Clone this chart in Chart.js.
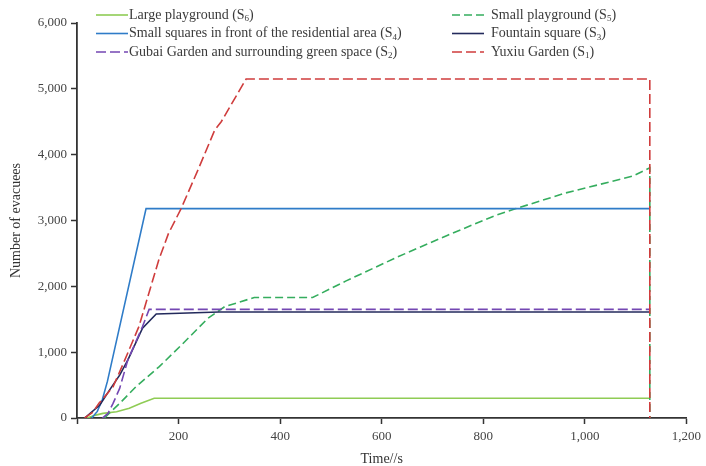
<!DOCTYPE html>
<html>
<head>
<meta charset="utf-8">
<script src="https://cdn.jsdelivr.net/npm/chart.js@4/dist/chart.umd.min.js"></script>
<style>
  html, body { margin: 0; padding: 0; background: #fff; }
  #wrap { width: 706px; height: 466px; }
</style>
</head>
<body>
<div id="wrap"><canvas id="evacChart" width="706" height="466"></canvas></div>
<script>
// time (s) and number of evacuees, per shelter
const s6Time  = [20, 35, 51, 78, 103, 126, 152, 1128];
const s6Count = [0, 40, 70, 95, 147, 223, 300, 300];

const s5Time  = [54, 84, 116, 162, 206, 258, 291, 349, 464, 530, 630, 730, 823, 863, 962, 1029, 1095, 1128, 1128];
const s5Count = [0, 222, 474, 780, 1111, 1515, 1692, 1830, 1830, 2083, 2442, 2777, 3074, 3177, 3418, 3547, 3676, 3800, 0];

const s4Time  = [29, 40, 50, 60, 136, 1128];
const s4Count = [0, 100, 280, 560, 3180, 3180];

const s3Time  = [15, 45, 64, 84, 100, 129, 156, 280, 1128];
const s3Count = [0, 197, 424, 652, 880, 1363, 1580, 1610, 1610];

const s2Time  = [50, 61, 71, 84, 100, 129, 142, 1128];
const s2Count = [0, 70, 222, 450, 879, 1389, 1650, 1650];

const s1Time  = [15, 30, 44, 71, 94, 122, 161, 180, 205, 240, 271, 284, 333, 1128, 1128];
const s1Count = [0, 80, 230, 474, 879, 1390, 2400, 2800, 3180, 3800, 4370, 4500, 5150, 5150, 0];

const seriesNames = [
  "Large playground (S6)",
  "Small playground (S5)",
  "Small squares in front of the residential area (S4)",
  "Fountain square (S3)",
  "Gubai Garden and surrounding green space (S2)",
  "Yuxiu Garden (S1)"
];

const xTicks = [0, 200, 400, 600, 800, 1000, 1200];
const yTicks = [0, 1000, 2000, 3000, 4000, 5000, 6000];

function toPoints(times, counts) {
  return times.map((t, i) => ({ x: t, y: counts[i] }));
}

const SERIF = "'Liberation Serif', 'DejaVu Serif', serif";
const fmt = n => n.toLocaleString("en-US");

// two-column legend drawn inside the top of the plot
const legendPlugin = {
  id: "twoColLegend",
  afterDraw(chart) {
    const ctx = chart.ctx;
    // left column: S6, S4, S2 ; right column: S5, S3, S1
    const slots = [
      { ds: 0, x: 96, y: 15 }, { ds: 1, x: 452, y: 15 },
      { ds: 2, x: 96, y: 33.5 }, { ds: 3, x: 452, y: 33.5 },
      { ds: 4, x: 96, y: 52 }, { ds: 5, x: 452, y: 52 }
    ];
    ctx.save();
    slots.forEach(s => {
      const d = chart.data.datasets[s.ds];
      ctx.strokeStyle = d.borderColor;
      ctx.lineWidth = 1.6;
      ctx.setLineDash(d.borderDash || []);
      ctx.beginPath();
      ctx.moveTo(s.x, s.y);
      ctx.lineTo(s.x + 32, s.y);
      ctx.stroke();
      ctx.setLineDash([]);
      // label with subscript index
      const m = d.label.match(/^(.*\(S)(\d)(\))$/);
      ctx.fillStyle = "#3a3a3a";
      ctx.textBaseline = "middle";
      let tx = s.x + (s.ds % 2 ? 39 : 33);
      ctx.font = "14px " + SERIF;
      ctx.fillText(m[1], tx, s.y);
      tx += ctx.measureText(m[1]).width;
      ctx.font = "9px " + SERIF;
      ctx.fillText(m[2], tx, s.y + 4);
      tx += ctx.measureText(m[2]).width;
      ctx.font = "14px " + SERIF;
      ctx.fillText(m[3], tx, s.y);
    });
    ctx.restore();
  }
};

const baseLine = { fill: false, pointRadius: 0, borderWidth: 1.6, tension: 0 };

new Chart(document.getElementById("evacChart").getContext("2d"), {
  type: "line",
  data: {
    datasets: [
      { ...baseLine, label: seriesNames[0], data: toPoints(s6Time, s6Count), borderColor: "#8fcc55", order: 6 },
      { ...baseLine, label: seriesNames[1], data: toPoints(s5Time, s5Count), borderColor: "#35ad5e", borderDash: [8, 4], order: 5 },
      { ...baseLine, label: seriesNames[2], data: toPoints(s4Time, s4Count), borderColor: "#2f7cc8", order: 4 },
      { ...baseLine, label: seriesNames[3], data: toPoints(s3Time, s3Count), borderColor: "#232a5c", order: 3 },
      { ...baseLine, label: seriesNames[4], data: toPoints(s2Time, s2Count), borderColor: "#7447b3", borderDash: [10, 4], order: 2 },
      { ...baseLine, label: seriesNames[5], data: toPoints(s1Time, s1Count), borderColor: "#cf3d3d", borderDash: [10, 4], order: 1 }
    ]
  },
  options: {
    responsive: false,
    animation: false,
    layout: { padding: { top: 23, right: 19, left: 0, bottom: 0 } },
    plugins: {
      legend: { display: false },
      tooltip: { enabled: false }
    },
    scales: {
      x: {
        type: "linear",
        min: 0,
        max: 1200,
        afterFit: scale => { scale.height = 48; },
        afterBuildTicks: scale => { scale.ticks = xTicks.map(v => ({ value: v })); },
        grid: { drawOnChartArea: false, tickLength: 6, tickColor: "#333", tickWidth: 1.5 },
        border: { color: "#333", width: 1.8 },
        ticks: {
          color: "#444",
          font: { family: SERIF, size: 13 },
          padding: 5,
          maxRotation: 0,
          callback: v => (v === 0 ? "" : fmt(v))
        },
        title: {
          display: true,
          text: "Time//s",
          color: "#333",
          font: { family: SERIF, size: 14 },
          padding: { top: 0, bottom: -2 }
        }
      },
      y: {
        min: 0,
        max: 6000,
        afterFit: scale => { scale.width = 77; },
        afterBuildTicks: scale => { scale.ticks = yTicks.map(v => ({ value: v })); },
        grid: { drawOnChartArea: false, tickLength: 6, tickColor: "#333", tickWidth: 1.5 },
        border: { color: "#333", width: 1.8 },
        ticks: {
          color: "#444",
          font: { family: SERIF, size: 13 },
          padding: 4,
          callback: v => fmt(v)
        },
        title: {
          display: true,
          text: "Number of evacuees",
          color: "#333",
          font: { family: SERIF, size: 14 },
          padding: { top: 8, bottom: 0 }
        }
      }
    }
  },
  plugins: [legendPlugin]
});
</script>
</body>
</html>
